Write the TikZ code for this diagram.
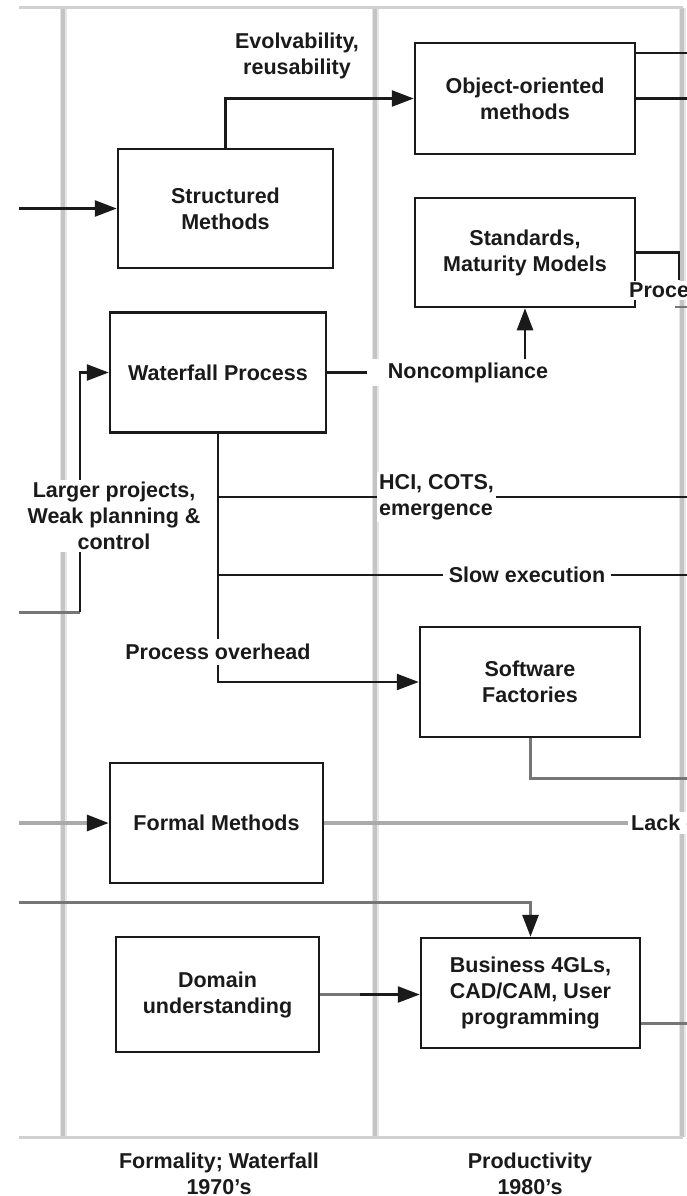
\documentclass[tikz,border=0pt]{standalone}
\usepackage{fontspec}
\setmainfont{Liberation Sans}
\usetikzlibrary{arrows.meta}
\definecolor{ink}{RGB}{26,26,26}
\definecolor{sepcore}{RGB}{196,196,196}
\definecolor{sepedge}{RGB}{230,230,230}
\definecolor{midgray}{RGB}{118,118,118}
\definecolor{palegray}{RGB}{170,170,170}

\begin{document}
\begin{tikzpicture}[x=1pt,y=-1pt,
  every node/.style={font=\fontsize{21.5}{26}\selectfont\bfseries, text=ink},
  box/.style={draw=ink, line width=2.5pt, fill=white, align=center, inner sep=0pt},
  conn/.style={draw=ink, line width=2.5pt},
  grayconn/.style={draw=midgray, line width=3pt},
  paleconn/.style={draw=palegray, line width=3.5pt},
  arrowed/.style={-{Triangle[length=22pt,width=16pt,color=ink,fill=ink]}},
  lbl/.style={fill=white, align=center, inner sep=3pt},
  colline/.style={line width=3.5pt, draw=sepcore},
  colhalo/.style={line width=7pt, draw=sepedge}
]
\useasboundingbox (0,0) rectangle (687,1196);

% frame of the two era columns
\coordinate (tl) at (19,8);
\coordinate (tr) at (683,8);
\coordinate (bl) at (19,1137);
\coordinate (br) at (683,1137);
\foreach \xx in {63,375,682} {
  \draw[colhalo] (\xx,8) -- (\xx,1137);
  \draw[colline] (\xx,8) -- (\xx,1137);
}
\draw[line width=3pt, draw=sepcore!80] (tl) -- (tr);
\draw[line width=3pt, draw=sepcore!80] (bl) -- (br);

% boxes
\node[box, minimum width=215pt, minimum height=119pt] (sm)  at (225.5,208.5) {Structured\\Methods};
\node[box, minimum width=220pt, minimum height=111pt] (oo)  at (525,98.5)   {Object-oriented\\methods};
\node[box, minimum width=220pt, minimum height=109pt] (std) at (525,252.5)  {Standards,\\Maturity Models};
\node[box, minimum width=216pt, minimum height=120pt] (wf)  at (218,372.5)  {Waterfall Process};
\node[box, minimum width=220pt, minimum height=110pt] (sf)  at (530,682)    {Software\\Factories};
\node[box, minimum width=213pt, minimum height=120pt] (fm)  at (216.5,823)  {Formal Methods};
\node[box, minimum width=203pt, minimum height=115pt] (dom) at (217.5,994.5){Domain\\understanding};
\node[box, minimum width=219pt, minimum height=110pt] (biz) at (530.5,993)  {Business 4GLs,\\CAD/CAM, User\\programming};

% labels on the connectors
\node[lbl] (evo) at (297,55.5) {Evolvability,\\reusability};
\node[lbl, inner xsep=21pt] (nc) at (468,372.5) {Noncompliance};
\node[lbl, inner sep=2pt, anchor=west, align=left] (hci) at (377,497) {HCI, COTS,\\emergence};
\node[lbl, inner xsep=6pt] (slow) at (527,575) {Slow execution};
\node[lbl, inner ysep=4.5pt] (po) at (218,652) {Process overhead};
\node[lbl, inner sep=2pt] (lp) at (114,516) {Larger projects,\\Weak planning \&\\control};
\node[lbl, inner sep=2pt, anchor=west] (proc) at (627,290) {Process};
\node[lbl, inner sep=3pt, anchor=west] (lack) at (628,823) {Lack of};

% era captions
\node (era70) at (219,1174) [align=center] {Formality; Waterfall\\1970's};
\node (era80) at (530,1174) [align=center] {Productivity\\1980's};

% free ends at the frame edges
\coordinate (smin)  at (19,208.5);
\coordinate (oor1)  at (687,53);
\coordinate (oor2)  at (687,98.5);
\coordinate (pc)    at (679,0);
\coordinate (hcir)  at (687,497);
\coordinate (slowr) at (687,575);
\coordinate (lpin)  at (19,612);
\coordinate (lpx)   at (80,612);
\coordinate (fmin)  at (19,823);
\coordinate (bizin) at (19,902);
\coordinate (dmid)  at (360,994.5);
\coordinate (bizr)  at (687,1023);
\coordinate (sfr)   at (687,778);
\coordinate (tickl) at (675,307);
\coordinate (tickr) at (687,307);

% connectors
\draw[conn, arrowed] (smin) -- (sm.west);
\draw[conn, arrowed] (sm.north) |- (oo.west);
\draw[conn] (oo.east |- oor1) -- (oor1);
\draw[conn] (oo.east) -- (oor2);
\draw[conn] (std.east) -| (pc |- proc.north);
\draw[grayconn, line width=2.5pt] (tickl) -- (tickr);

\draw[conn] (wf.east) -- (nc.west);
\draw[conn, arrowed] (nc.north -| std.south) -- (std.south);

\draw[conn] (wf.south) -- (po.north);
\draw[conn] (wf.south |- hci.west) -- (hci.west);
\draw[conn] (hci.east |- hcir) -- (hcir);
\draw[conn] (wf.south |- slow.west) -- (slow.west);
\draw[conn] (slow.east) -- (slowr);
\draw[conn, arrowed] (po.south) |- (sf.west);

\draw[grayconn] (lpin) -- (lpx);
\draw[conn] (lpx) -- (lpx |- lp.south);
\draw[conn, arrowed] (lpx |- lp.north) |- (wf.west);

\draw[paleconn, arrowed] (fmin) -- (fm.west);
\draw[paleconn] (fm.east) -- (lack.west);

\draw[grayconn, arrowed] (bizin) -| (biz.north);
\draw[grayconn] (dom.east) -- (dmid);
\draw[conn, arrowed] (dmid) -- (dom.east -| biz.west);
\draw[grayconn] (biz.east |- bizr) -- (bizr);
\draw[grayconn] (sf.south) |- (sfr);
\end{tikzpicture}
\end{document}
